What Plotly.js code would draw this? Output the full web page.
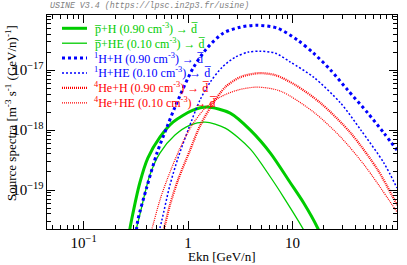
<!DOCTYPE html>
<html>
<head>
<meta charset="utf-8">
<script src="https://cdn.plot.ly/plotly-3.0.1.min.js"></script>
<style>html,body{margin:0;padding:0;background:#fff;}#chart{width:407px;height:265px;}</style>
</head>
<body>
<div id="chart"></div>
<script>
// ---- data (Ekn in GeV/n, source spectra in m^-3 s^-1 (GeV/n)^-1) ----
const ekn_pbarH  = [0.271,0.288,0.345,0.412,0.538,0.718,1.117,1.52,2.53,3.95,6.14,9.56,12.8,17.4,18.6];
const src_pbarH  = [1.78e-20,3.16e-20,1.31e-19,3.41e-19,7.64e-19,1.36e-18,2.15e-18,2.42e-18,1.92e-18,1.0e-18,4.14e-19,1.31e-19,6.07e-20,2.33e-20,1.78e-20];

const ekn_pbarHE = [0.309,0.345,0.431,0.538,0.75,1.045,1.46,2.27,3.95,6.14,8.2,12.8,13.6];
const src_pbarHE = [1.78e-20,3.83e-20,1.78e-19,4.14e-19,8.25e-19,1.21e-18,1.36e-18,1.08e-18,4.82e-19,1.65e-19,7.64e-20,2.15e-20,1.7e-20];

const ekn_1HH  = [0.316,0.331,0.403,0.504,0.628,0.75,1.117,1.52,2.17,3.16,4.61,7.17,11.2,15.9,23.2,33.8,52.6,75,100];
const src_1HH  = [1.71e-20,3.16e-20,1.12e-19,4.14e-19,1.12e-18,2.42e-18,1.08e-17,2.33e-17,4.14e-17,5.21e-17,5.62e-17,5.01e-17,3.16e-17,1.92e-17,1.0e-17,4.64e-18,1.92e-18,8.9e-19,4.64e-19];

const ekn_1HHE = [0.515,0.562,0.671,0.801,1.0,1.30,1.63,2.12,2.83,3.78,4.92,6.86,9.56,15.9,28.9,45.1,75,100];
const src_1HHE = [1.71e-20,3.16e-20,1.21e-19,3.41e-19,1.0e-18,3.16e-18,6.31e-18,1.12e-17,1.65e-17,2.0e-17,2.07e-17,1.92e-17,1.36e-17,7.64e-18,2.82e-18,1.0e-18,2.82e-19,1.08e-19];

const ekn_4HeH  = [0.562,0.588,0.671,0.801,1.045,1.30,1.74,2.27,3.16,4.71,6.86,10.7,18.6,36.1,65.6,100];
const src_4HeH  = [1.71e-20,2.24e-20,5.62e-20,1.47e-19,4.64e-19,1.17e-18,2.82e-18,5.21e-18,7.64e-18,8.9e-18,8.25e-18,5.62e-18,2.82e-18,8.9e-19,2.15e-19,5.62e-20];

const ekn_4HeHE = [0.431,0.451,0.538,0.628,0.838,1.093,1.46,2.03,2.96,4.61,7.67,15.9,28.9,50.3,100];
const src_4HeHE = [1.71e-20,2.24e-20,6.81e-20,1.47e-19,5.01e-19,1.21e-18,2.33e-18,3.55e-18,4.64e-18,5.21e-18,4.47e-18,2.0e-18,7.64e-19,2.42e-19,4.3e-20];

const seriesNames = [
  "p\u0305+H (0.90 cm<sup>-3</sup>) \u2192 d\u0305",
  "p\u0305+HE (0.10 cm<sup>-3</sup>) \u2192 d\u0305",
  "<sup>1</sup>H+H (0.90 cm<sup>-3</sup>) \u2192 d\u0305",
  "<sup>1</sup>H+HE (0.10 cm<sup>-3</sup>) \u2192 d\u0305",
  "<sup>4</sup>He+H (0.90 cm<sup>-3</sup>) \u2192 d\u0305",
  "<sup>4</sup>He+HE (0.10 cm<sup>-3</sup>) \u2192 d\u0305"
];
const xTitle = "Ekn [GeV/n]";
const yTitle = "Source spectra [m<sup>-3</sup> s<sup>-1</sup> (GeV/n)<sup>-1</sup>]";
const topLabel = "USINE V3.4 (https://lpsc.in2p3.fr/usine)";

// ---- styles ----
const GREEN = "#00cc00", BLUE = "#0000ff", RED = "#ff0000";
const styles = [
  {color: GREEN, width: 3,   dash: "solid"},
  {color: GREEN, width: 1.3, dash: "solid"},
  {color: BLUE,  width: 3,   dash: "3px,3px"},
  {color: BLUE,  width: 1.5, dash: "2px,2px"},
  {color: RED,   width: 2.2, dash: "1px,1px"},
  {color: RED,   width: 1.2, dash: "1px,1px"}
];
const xs = [ekn_pbarH, ekn_pbarHE, ekn_1HH, ekn_1HHE, ekn_4HeH, ekn_4HeHE];
const ys = [src_pbarH, src_pbarHE, src_1HH, src_1HHE, src_4HeH, src_4HeHE];

const traces = xs.map((x, i) => ({
  x: x, y: ys[i], type: "scatter", mode: "lines", name: seriesNames[i],
  line: {color: styles[i].color, width: styles[i].width, dash: styles[i].dash, shape: "spline", smoothing: 0.8},
  showlegend: false, hoverinfo: "skip"
}));

// plot area geometry (px)
const W = 407, H = 265, ML = 47, MR = 10, MT = 15, MB = 36;
const PW = W - ML - MR, PH = H - MT - MB;
const px2x = p => (p - ML) / PW;
const px2y = p => 1 - (p - MT) / PH;

// legend built from annotations + key lines
const legRow0 = 28.3, legStep = 14.9;
const shapes = [], annotations = [];
seriesNames.forEach((nm, i) => {
  const yy = px2y(legRow0 + i * legStep);
  shapes.push({type: "line", xref: "paper", yref: "paper", x0: px2x(62), x1: px2x(87), y0: yy, y1: yy,
    line: {color: styles[i].color, width: styles[i].width, dash: styles[i].dash}});
  annotations.push({xref: "paper", yref: "paper", x: px2x(92), y: yy, xanchor: "left", yanchor: "middle",
    text: nm, showarrow: false, font: {family: "Liberation Serif", size: 12, color: styles[i].color}});
});
annotations.push({xref: "paper", yref: "paper", x: px2x(11), y: px2y(113), xanchor: "center", yanchor: "middle",
  textangle: -90, text: yTitle, showarrow: false, font: {family: "Liberation Serif", size: 13, color: "#000"}});
annotations.push({xref: "paper", yref: "paper", x: px2x(222), y: px2y(256), xanchor: "center", yanchor: "middle",
  text: xTitle, showarrow: false, font: {family: "Liberation Serif", size: 13, color: "#000"}});
annotations.push({xref: "paper", yref: "paper", x: px2x(48), y: px2y(6), xanchor: "left", yanchor: "middle",
  text: "<i>" + topLabel + "</i>", showarrow: false, font: {family: "Liberation Mono", size: 8.3, color: "#808080"}});

const axisCommon = {
  type: "log", showline: true, linecolor: "#000", linewidth: 1, mirror: "allticks",
  ticks: "inside", ticklen: 8, tickwidth: 1, tickcolor: "#000", showgrid: false, zeroline: false,
  dtick: 1, exponentformat: "power",
  minor: {ticks: "inside", ticklen: 4, tickwidth: 1, tickcolor: "#000", dtick: "D1", showgrid: false},
  tickfont: {family: "Liberation Serif", size: 12, color: "#000"}
};

const layout = {
  width: W, height: H,
  margin: {l: ML, r: MR, t: MT, b: MB},
  paper_bgcolor: "#fff", plot_bgcolor: "#fff",
  showlegend: false,
  xaxis: Object.assign({}, axisCommon, {range: [-1.35, 2], ticklabelstandoff: 1}),
  yaxis: Object.assign({}, axisCommon, {range: [-19.65, -16.08], ticklabelstandoff: 0}),
  shapes: shapes, annotations: annotations
};

Plotly.newPlot("chart", traces, layout, {staticPlot: true, displayModeBar: false});
</script>
</body>
</html>
